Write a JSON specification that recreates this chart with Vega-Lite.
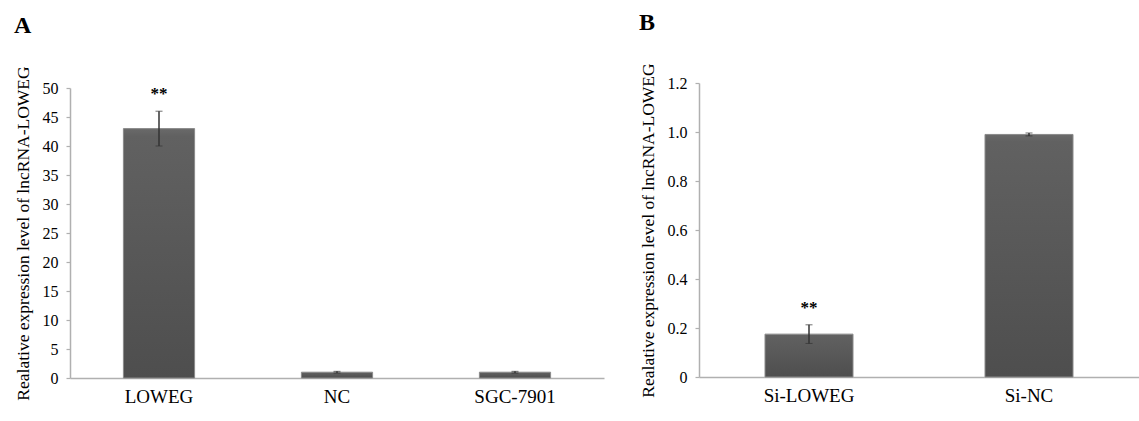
{
  "$schema": "https://vega.github.io/schema/vega-lite/v6.json",
  "padding": {"left": 14, "top": 10, "right": 0, "bottom": 0},
  "spacing": 35,
  "config": {
    "font": "Liberation Serif",
    "view": {"stroke": null},
    "title": {"font": "Liberation Serif", "fontSize": 24, "fontWeight": "bold", "anchor": "start", "color": "#000"},
    "text": {"font": "Liberation Serif"},
    "axis": {
      "labelFont": "Liberation Serif", "titleFont": "Liberation Serif",
      "labelColor": "#000", "titleColor": "#000",
      "domainColor": "#b0b0b0", "tickColor": "#b0b0b0", "domainWidth": 1.5, "tickWidth": 1.2,
      "grid": false
    }
  },
  "hconcat": [
    {
      "title": {"text": "A", "offset": 28},
      "width": 534, "height": 295,
      "data": {"values": [
        {"group": "LOWEG", "mean": 43.0, "err": 3.0, "sig": "**"},
        {"group": "NC", "mean": 1.0, "err": 0.15, "sig": ""},
        {"group": "SGC-7901", "mean": 1.0, "err": 0.15, "sig": ""}
      ]},
      "encoding": {
        "x": {"field": "group", "type": "nominal", "sort": null,
          "scale": {"paddingInner": 0.6, "paddingOuter": 0.3},
          "axis": {"title": null, "labelAngle": 0, "labelFont": "Liberation Serif", "labelFontSize": 19, "labelPadding": 9, "ticks": false}},
        "y": {"field": "mean", "type": "quantitative", "title": "Realative expression level of lncRNA-LOWEG",
          "scale": {"domain": [0, 50], "nice": false, "range": [295, 5]},
          "axis": {"values": [0,5,10,15,20,25,30,35,40,45,50], "labelOverlap": false,
            "labelFont": "Liberation Serif", "titleFont": "Liberation Serif",
            "titleFontSize": 17.5, "titleFontWeight": "normal", "titlePadding": 10,
            "labelFontSize": 16, "labelPadding": 8, "tickSize": 4}}
      },
      "layer": [
        {
          "mark": {"type": "bar", "stroke": "#8a8a8a", "strokeWidth": 1,
            "color": {"gradient": "linear", "x1": 0, "y1": 0, "x2": 0, "y2": 1,
              "stops": [{"offset": 0, "color": "#6a6a6a"}, {"offset": 0.03, "color": "#616161"}, {"offset": 1, "color": "#4e4e4e"}]}}
        },
        {
          "mark": {"type": "errorbar", "ticks": {"color": "#333", "size": 7}, "rule": {"color": "#333", "strokeWidth": 1.5}},
          "encoding": {
            "yError": {"field": "err"}
          }
        },
        {
          "transform": [{"calculate": "datum.mean + datum.err", "as": "top"}],
          "mark": {"type": "text", "fontSize": 17, "fontWeight": "bold", "dy": -8, "baseline": "bottom", "color": "#000"},
          "encoding": {
            "y": {"field": "top", "type": "quantitative", "title": "Realative expression level of lncRNA-LOWEG",
              "axis": {"values": [0,5,10,15,20,25,30,35,40,45,50], "labelOverlap": false,
                "labelFont": "Liberation Serif", "titleFont": "Liberation Serif",
                "titleFontSize": 17.5, "titleFontWeight": "normal", "titlePadding": 10,
                "labelFontSize": 16, "labelPadding": 8, "tickSize": 4}},
            "text": {"field": "sig"}
          }
        }
      ]
    },
    {
      "title": {"text": "B", "offset": 28},
      "width": 440, "height": 294,
      "data": {"values": [
        {"group": "Si-LOWEG", "mean": 0.175, "err": 0.038, "sig": "**"},
        {"group": "Si-NC", "mean": 0.99, "err": 0.006, "sig": ""}
      ]},
      "encoding": {
        "x": {"field": "group", "type": "nominal", "sort": null,
          "scale": {"paddingInner": 0.6, "paddingOuter": 0.3},
          "axis": {"title": null, "labelAngle": 0, "labelFont": "Liberation Serif", "labelFontSize": 19, "labelPadding": 9, "ticks": false}},
        "y": {"field": "mean", "type": "quantitative", "title": "Realative expression level of lncRNA-LOWEG",
          "scale": {"domain": [0, 1.2], "nice": false},
          "axis": {"values": [0,0.2,0.4,0.6,0.8,1.0,1.2], "labelOverlap": false,
            "labelExpr": "datum.value == 0 ? '0' : format(datum.value, '.1f')",
            "labelFont": "Liberation Serif", "titleFont": "Liberation Serif",
            "titleFontSize": 17.5, "titleFontWeight": "normal", "titlePadding": 10,
            "labelFontSize": 16, "labelPadding": 8, "tickSize": 4}}
      },
      "layer": [
        {
          "mark": {"type": "bar", "stroke": "#8a8a8a", "strokeWidth": 1,
            "color": {"gradient": "linear", "x1": 0, "y1": 0, "x2": 0, "y2": 1,
              "stops": [{"offset": 0, "color": "#6a6a6a"}, {"offset": 0.03, "color": "#616161"}, {"offset": 1, "color": "#4e4e4e"}]}}
        },
        {
          "mark": {"type": "errorbar", "ticks": {"color": "#333", "size": 7}, "rule": {"color": "#333", "strokeWidth": 1.5}},
          "encoding": {
            "yError": {"field": "err"}
          }
        },
        {
          "transform": [{"calculate": "datum.mean + datum.err", "as": "top"}],
          "mark": {"type": "text", "fontSize": 17, "fontWeight": "bold", "dy": -8, "baseline": "bottom", "color": "#000"},
          "encoding": {
            "y": {"field": "top", "type": "quantitative", "title": "Realative expression level of lncRNA-LOWEG",
              "axis": {"values": [0,0.2,0.4,0.6,0.8,1.0,1.2], "labelOverlap": false,
                "labelExpr": "datum.value == 0 ? '0' : format(datum.value, '.1f')",
                "labelFont": "Liberation Serif", "titleFont": "Liberation Serif",
                "titleFontSize": 17.5, "titleFontWeight": "normal", "titlePadding": 10,
                "labelFontSize": 16, "labelPadding": 8, "tickSize": 4}},
            "text": {"field": "sig"}
          }
        }
      ]
    }
  ]
}
